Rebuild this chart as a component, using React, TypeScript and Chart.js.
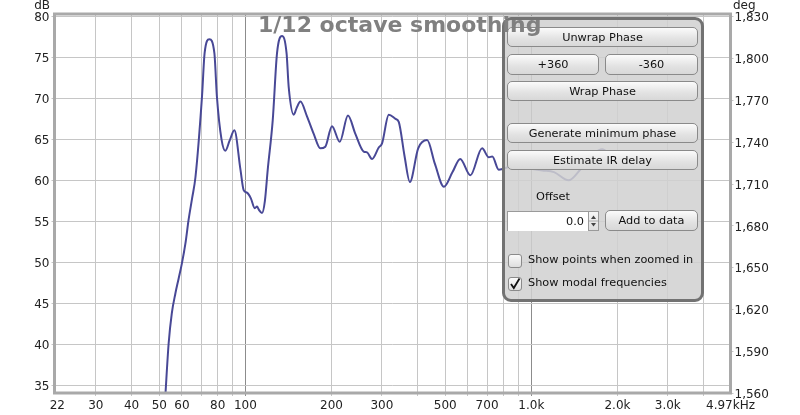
import React, { useEffect, useRef } from "react";
import { Chart, registerables } from "chart.js";
Chart.register(...registerables);

// ---- data ----
const freqs = [
  52.4, 53.9, 55.3, 56.9, 58.4, 60.0, 61.7, 63.3, 65.1, 66.9, 70.5, 72.0, 74.8, 77.9, 79.5,
  82.5, 85.1, 88.0, 91.5, 96.1, 98.6, 101.3, 104.5, 107.8, 109.8, 111.5, 114.3, 117.0, 119.7,
  124.6, 129.0, 134.3, 139.3, 141.7, 147.6, 151.0, 155.7, 164.2, 173.2, 182.8, 190.3, 200.8,
  213.8, 228.4, 242.2, 259.3, 266.4, 277.3, 292.6, 300.5, 317.2, 334.9, 344.0, 360.0, 375.9,
  402.0, 432.0, 460.0, 494.6, 530.0, 564.0, 611.9, 672.5, 710.0, 730.0, 769.0, 856.0, 950.0,
  1092.0, 1200.0, 1349.0, 1500.0, 1768.0, 1900.0,
];
const spl = [
  33.3, 40.1, 43.8, 46.2, 48.0, 49.9, 52.3, 55.2, 57.8, 60.4, 70.2, 75.5, 77.2, 75.5, 70.2,
  65.0, 63.6, 64.8, 66.1, 61.3, 58.8, 58.5, 57.8, 56.6, 56.8, 56.4, 56.0, 57.5, 61.3,
  67.3, 75.5, 77.6, 75.5, 71.4, 68.0, 68.8, 69.6, 67.8, 65.7, 63.9, 64.1, 66.6,
  64.7, 67.9, 65.7, 63.5, 63.4, 62.6, 64.0, 64.5, 68.0, 67.5, 67.1, 63.0, 59.8,
  63.9, 64.9, 62.0, 59.2, 61.0, 62.6, 60.6, 63.9, 62.8, 62.9, 61.3, 61.7, 61.5,
  61.2, 61.0, 60.0, 61.5, 63.8, 63.0,
];
const xTicks = [22, 30, 40, 50, 60, 70, 80, 90, 100, 200, 300, 400, 500, 600, 700, 800, 900, 1000, 2000, 3000, 4000, 4970];
const xLabels: Record<number, string> = {
  22: "22", 30: "30", 40: "40", 50: "50", 60: "60", 80: "80", 100: "100", 200: "200", 300: "300",
  500: "500", 700: "700", 1000: "1.0k", 2000: "2.0k", 3000: "3.0k", 4970: "4.97kHz",
};
const dbTicks = [35, 40, 45, 50, 55, 60, 65, 70, 75, 80];
const degTicks = [1560, 1590, 1620, 1650, 1680, 1710, 1740, 1770, 1800, 1830];
const degLabels = ["1,560", "1,590", "1,620", "1,650", "1,680", "1,710", "1,740", "1,770", "1,800", "1,830"];
const titleText = "1/12 octave smoothing";
const leftUnit = "dB";
const rightUnit = "deg";

const FONT = "'DejaVu Sans', sans-serif";

const btn: React.CSSProperties = {
  position: "absolute",
  boxSizing: "border-box",
  border: "1px solid #8a8a8a",
  borderRadius: 5,
  background: "linear-gradient(#fbfbfb, #e2e2e2 60%, #d8d8d8)",
  font: `11.3px ${FONT}`,
  color: "#111",
  display: "flex",
  alignItems: "center",
  justifyContent: "center",
  whiteSpace: "nowrap",
};

function Button(props: { l: number; t: number; w: number; h: number; text: string }) {
  return (
    <div style={{ ...btn, left: props.l, top: props.t, width: props.w, height: props.h }}>{props.text}</div>
  );
}

const framePlugin = {
  id: "framePlugin",
  afterDatasetsDraw(chart: any) {
    const { ctx, chartArea: a } = chart;
    ctx.save();
    ctx.strokeStyle = "#a9a9a9";
    ctx.lineWidth = 3;
    ctx.strokeRect(a.left, a.top, a.right - a.left, a.bottom - a.top);
    ctx.restore();
  },
  afterDraw(chart: any) {
    const { ctx } = chart;
    ctx.save();
    ctx.font = `12px ${FONT}`;
    ctx.fillStyle = "#222";
    ctx.textBaseline = "middle";
    ctx.textAlign = "right";
    ctx.fillText(leftUnit, 50, 5.5);
    ctx.textAlign = "left";
    ctx.fillText(rightUnit, 733, 5.5);
    ctx.restore();
  },
};

export default function App() {
  const ref = useRef<HTMLCanvasElement>(null);
  useEffect(() => {
    document.body.style.margin = "0";
    const chart = new Chart(ref.current!, {
      type: "line",
      data: {
        datasets: [
          {
            data: freqs.map((f, i) => ({ x: f, y: spl[i] })),
            borderColor: "rgb(72,72,150)",
            borderWidth: 2,
            pointRadius: 0,
            cubicInterpolationMode: "monotone",
            fill: false,
          },
        ],
      },
      options: {
        responsive: false,
        animation: false,
        maintainAspectRatio: false,
        layout: { padding: { top: 14, left: 0, right: 0, bottom: 0 } },
        plugins: { legend: { display: false }, tooltip: { enabled: false } },
        scales: {
          x: {
            type: "logarithmic",
            min: 21.5,
            max: 4970,
            afterBuildTicks: (s: any) => {
              s.ticks = xTicks.map((v) => ({ value: v }));
            },
            afterFit: (s: any) => {
              s.height = 22;
            },
            ticks: {
              autoSkip: false,
              maxRotation: 0,
              minRotation: 0,
              padding: 3,
              font: { family: FONT, size: 12 },
              color: "#222",
              callback: (v: any) => xLabels[v as number] ?? "",
            },
            grid: {
              color: (c: any) => {
                const v = c.tick && c.tick.value;
                if (v === 22 || v === 4970) return "rgba(0,0,0,0)";
                if (v === 100 || v === 1000) return "#8c8c8c";
                return "#c6c6c6";
              },
              tickLength: 3,
            },
            border: { display: false },
          },
          y: {
            position: "left",
            min: 34.06,
            max: 80.28,
            afterBuildTicks: (s: any) => {
              s.ticks = dbTicks.map((v) => ({ value: v }));
            },
            afterFit: (s: any) => {
              s.width = 54.5;
            },
            ticks: { padding: 2, labelOffset: 1.5, font: { family: FONT, size: 12 }, color: "#222" },
            grid: { color: "#c6c6c6", tickLength: 3 },
            border: { display: false },
          },
          y2: {
            position: "right",
            min: 1560.4,
            max: 1831.7,
            afterBuildTicks: (s: any) => {
              s.ticks = degTicks.map((v) => ({ value: v }));
            },
            afterFit: (s: any) => {
              s.width = 69.5;
            },
            ticks: {
              padding: 1,
              labelOffset: 1.5,
              font: { family: FONT, size: 12 },
              color: "#222",
              callback: (_v: any, i: number) => degLabels[i],
            },
            grid: { drawOnChartArea: false, color: "#c6c6c6", tickLength: 3 },
            border: { display: false },
          },
        },
      } as any,
      plugins: [framePlugin],
    });
    return () => chart.destroy();
  }, []);

  return (
    <div style={{ position: "fixed", left: 0, top: 0, width: 800, height: 415, background: "#fff", overflow: "hidden" }}>
      <canvas ref={ref} width={800} height={415} style={{ position: "absolute", left: 0, top: 0, width: 800, height: 415 }} />
      {/* control panel */}
      <div
        style={{
          position: "absolute",
          left: 502,
          top: 17,
          width: 202,
          height: 285,
          boxSizing: "border-box",
          border: "3px solid #727272",
          borderRadius: 9,
          background: "rgba(208,208,208,0.86)",
        }}
      />
      <Button l={507} t={27} w={191} h={20} text="Unwrap Phase" />
      <Button l={507} t={54} w={92} h={21} text="+360" />
      <Button l={605} t={54} w={93} h={21} text="-360" />
      <Button l={507} t={81} w={191} h={20} text="Wrap Phase" />
      <Button l={507} t={123} w={191} h={20} text="Generate minimum phase" />
      <Button l={507} t={150} w={191} h={20} text="Estimate IR delay" />
      <div style={{ position: "absolute", left: 536, top: 190, height: 16, lineHeight: "16px", font: `11.3px ${FONT}`, color: "#111" }}>
        Offset
      </div>
      <div
        style={{
          position: "absolute",
          left: 507,
          top: 211,
          width: 81,
          height: 20,
          boxSizing: "border-box",
          background: "#fff",
          borderTop: "1px solid #9a9a9a",
          borderLeft: "1px solid #9a9a9a",
          font: `11.3px ${FONT}`,
          color: "#111",
          lineHeight: "19px",
          textAlign: "right",
          paddingRight: 4,
        }}
      >
        0.0
      </div>
      <div
        style={{
          position: "absolute",
          left: 588,
          top: 211,
          width: 11,
          height: 20,
          boxSizing: "border-box",
          border: "1px solid #9a9a9a",
          background: "linear-gradient(#f6f6f6, #dedede)",
        }}
      >
        <svg width="9" height="18" style={{ position: "absolute", left: 0, top: 0 }}>
          <path d="M2 7 L4.5 3.5 L7 7 Z" fill="#444" />
          <line x1="0" y1="9" x2="9" y2="9" stroke="#aaa" strokeWidth="1" />
          <path d="M2 11 L4.5 14.5 L7 11 Z" fill="#444" />
        </svg>
      </div>
      <Button l={605} t={210} w={93} h={21} text="Add to data" />
      <div
        style={{
          position: "absolute",
          left: 508,
          top: 254,
          width: 14,
          height: 14,
          boxSizing: "border-box",
          border: "1px solid #8a8a8a",
          borderRadius: 3,
          background: "linear-gradient(#fafafa, #dedede)",
        }}
      />
      <div style={{ position: "absolute", left: 528, top: 253, height: 16, lineHeight: "16px", font: `11.3px ${FONT}`, color: "#111", whiteSpace: "nowrap" }}>
        Show points when zoomed in
      </div>
      <div
        style={{
          position: "absolute",
          left: 508,
          top: 277,
          width: 14,
          height: 14,
          boxSizing: "border-box",
          border: "1px solid #8a8a8a",
          borderRadius: 3,
          background: "linear-gradient(#fafafa, #dedede)",
        }}
      >
        <svg width="12" height="12" style={{ position: "absolute", left: 0, top: 0 }}>
          <path d="M2 6 L4.8 10 L10.5 0.5" stroke="#111" strokeWidth="1.8" fill="none" />
        </svg>
      </div>
      <div style={{ position: "absolute", left: 528, top: 276, height: 16, lineHeight: "16px", font: `11.3px ${FONT}`, color: "#111", whiteSpace: "nowrap" }}>
        Show modal frequencies
      </div>
      {/* title */}
      <div
        style={{
          position: "absolute",
          left: 258,
          top: 12,
          lineHeight: "22px",
          font: `bold 22px ${FONT}`,
          color: "#808080",
          whiteSpace: "nowrap",
        }}
      >
        {titleText}
      </div>
    </div>
  );
}
